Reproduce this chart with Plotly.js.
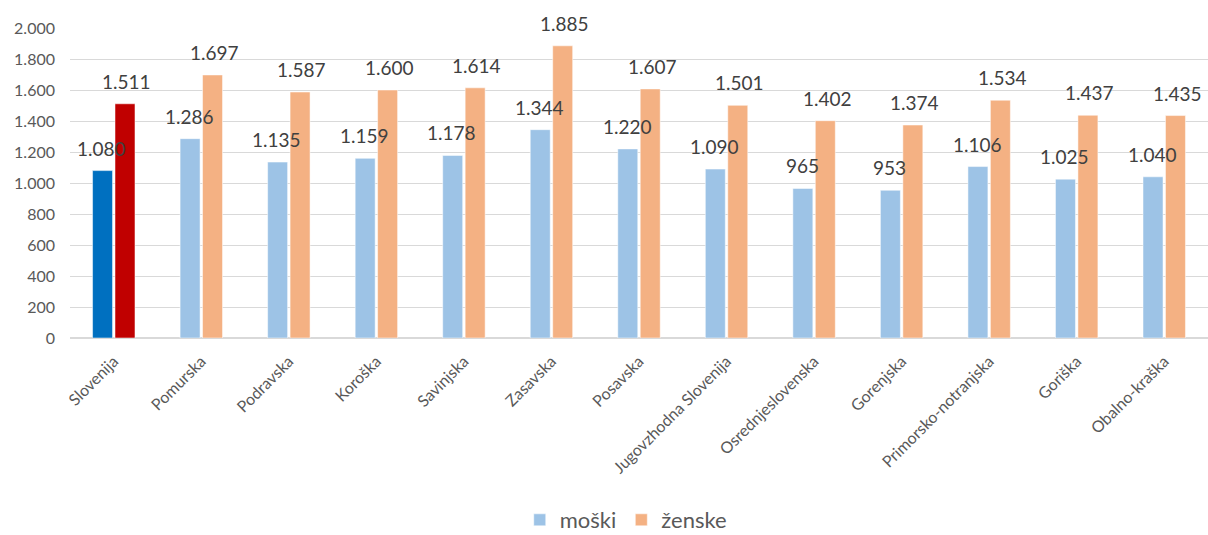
<!DOCTYPE html>
<html>
<head>
<meta charset="utf-8">
<script src="https://cdn.plot.ly/plotly-3.0.1.min.js"></script>
<style>html,body{margin:0;padding:0;background:#fff;}#chart{width:1208px;height:535px;}</style>
</head>
<body>
<div id="chart"></div>
<script>
const categories = ["Slovenija","Pomurska","Podravska","Koroška","Savinjska","Zasavska","Posavska","Jugovzhodna Slovenija","Osrednjeslovenska","Gorenjska","Primorsko-notranjska","Goriška","Obalno-kraška"];
const moski = [1080,1286,1135,1159,1178,1344,1220,1090,965,953,1106,1025,1040];
const zenske = [1511,1697,1587,1600,1614,1885,1607,1501,1402,1374,1534,1437,1435];
const seriesNames = ["moški","ženske"];
const yTicks = [0,200,400,600,800,1000,1200,1400,1600,1800,2000];

const colM = "#9DC3E6", colZ = "#F4B183", colMS = "#0070C0", colZS = "#C00000";
const font = "Lato, 'Open Sans', sans-serif";
const lineStyle = {color:"rgba(255,255,255,0.5)", width:1};

const traces = [
  {type:"bar", name:seriesNames[0], x:categories.slice(1), y:moski.slice(1), offsetgroup:"m",
   marker:{color:colM, line:lineStyle}, hoverinfo:"x+y"},
  {type:"bar", name:seriesNames[1], x:categories.slice(1), y:zenske.slice(1), offsetgroup:"z",
   marker:{color:colZ, line:lineStyle}, hoverinfo:"x+y"},
  {type:"bar", name:seriesNames[0], x:[categories[0]], y:[moski[0]], offsetgroup:"m", showlegend:false,
   marker:{color:colMS, line:lineStyle}, hoverinfo:"x+y"},
  {type:"bar", name:seriesNames[1], x:[categories[0]], y:[zenske[0]], offsetgroup:"z", showlegend:false,
   marker:{color:colZS, line:lineStyle}, hoverinfo:"x+y"}
];

function fmt(v){ return String(v).replace(/\B(?=(\d{3})+(?!\d))/g, "."); }
const annotations = [];
categories.forEach((c,i)=>{
  annotations.push({x:c, y:moski[i], xref:"x", yref:"y", text:fmt(moski[i]), showarrow:false,
    yanchor:"bottom", xshift:-12, yshift:9, font:{family:font, size:19, color:"#404040"}});
  annotations.push({x:c, y:zenske[i], xref:"x", yref:"y", text:fmt(zenske[i]), showarrow:false,
    yanchor:"bottom", xshift:13, yshift:9, font:{family:font, size:19, color:"#404040"}});
});

const layout = {
  width:1208, height:535,
  margin:{l:70, r:0, t:28, b:197, autoexpand:false},
  paper_bgcolor:"#ffffff", plot_bgcolor:"#ffffff",
  separators:",.",
  barmode:"group", bargap:0.487, bargroupgap:0.11,
  font:{family:font, color:"#595959"},
  xaxis:{type:"category", categoryorder:"array", categoryarray:categories, tickangle:-45, automargin:false,
    tickfont:{family:font, size:16, color:"#595959"}, showgrid:false, ticks:"", showline:false, zeroline:false,
    ticklabelstandoff:10, fixedrange:true},
  yaxis:{range:[0,2000], tickvals:yTicks, ticktext:yTicks.map(fmt), showgrid:true, gridcolor:"#D9D9D9", gridwidth:1,
    zeroline:true, zerolinecolor:"#D9D9D9", zerolinewidth:2, showline:false, ticks:"", automargin:false,
    tickfont:{family:font, size:16, color:"#595959"}, ticklabelstandoff:14, fixedrange:true},
  legend:{orientation:"h", x:0.518, xref:"container", xanchor:"center", y:0.028, yref:"container", yanchor:"middle",
    font:{family:font, size:22, color:"#595959"}, itemwidth:30, traceorder:"normal"},
  annotations:annotations,
  showlegend:true
};

Plotly.newPlot("chart", traces, layout, {displayModeBar:false, staticPlot:true});
</script>
</body>
</html>
